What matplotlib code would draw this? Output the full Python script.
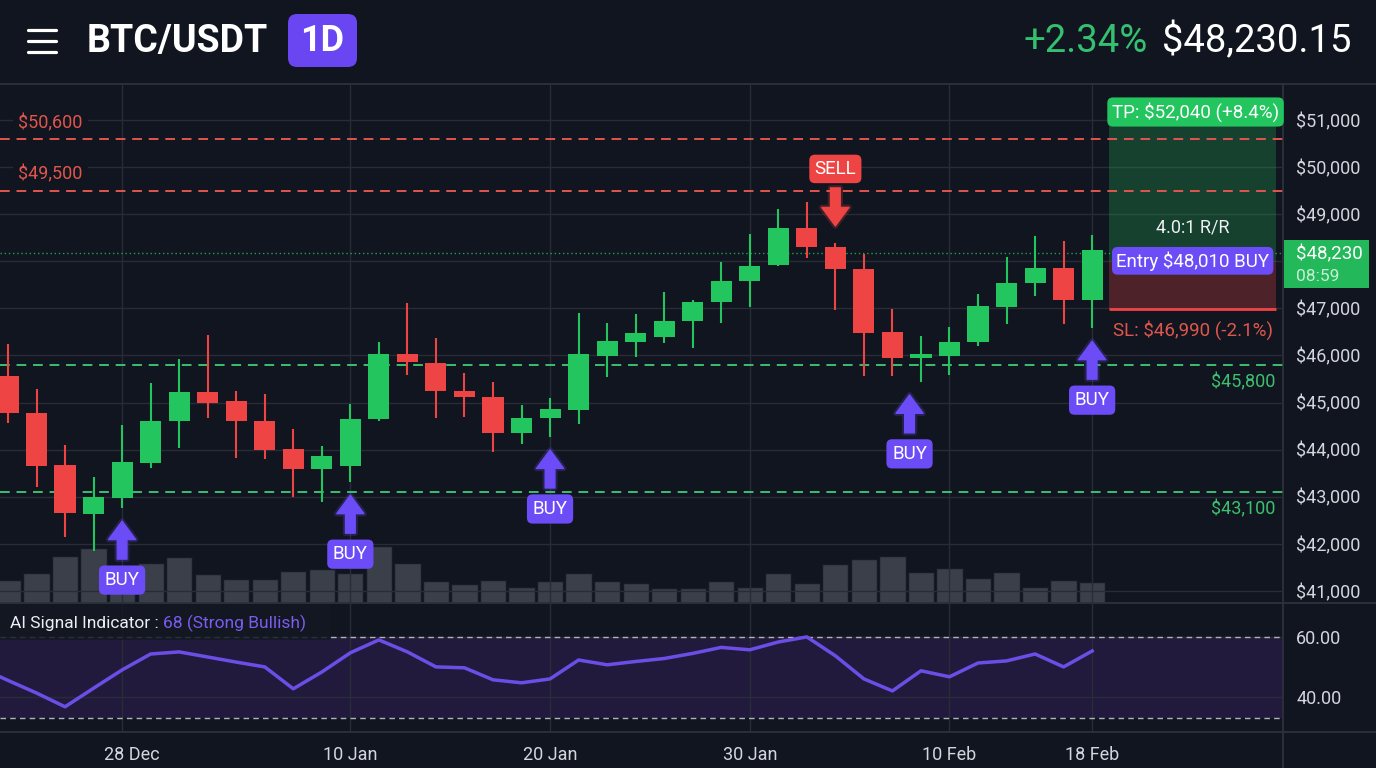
"""BTC/USDT daily candlestick chart with trade zone and AI signal panel."""

import matplotlib.pyplot as plt
import matplotlib.patheffects as pe
import numpy as np
from matplotlib.lines import Line2D
from matplotlib.patches import FancyBboxPatch, Rectangle
from matplotlib.ticker import FuncFormatter
from matplotlib.transforms import (IdentityTransform, ScaledTranslation,
                                   blended_transform_factory)

plt.rcParams["font.family"] = ["Roboto", "DejaVu Sans"]

# ---- values ----
opens = [45560, 44780, 43680, 42640, 42980, 43720, 44610, 45230, 45030, 44610,
         44010, 43590, 43650, 44650, 46030, 45840, 45250, 45120, 44360, 44670,
         44840, 45990, 46290, 46390, 46730, 47140, 47580, 47920, 48710, 48300,
         47840, 46500, 45950, 45990, 46290, 47030, 47540, 47860, 47180]
highs = [46240, 45290, 44100, 43420, 44520, 45420, 45930, 46440, 45250, 45180,
         44440, 44080, 44970, 46290, 47120, 46370, 45630, 45440, 44950, 45100,
         46900, 46690, 46880, 47350, 47180, 47990, 48580, 49110, 49260, 48390,
         48160, 46990, 46410, 46610, 47310, 48090, 48540, 48430, 48560]
lows = [44570, 43210, 42150, 41850, 42760, 43610, 44040, 44670, 43820, 43800,
        43000, 42890, 43310, 44600, 45590, 44670, 44690, 43950, 44120, 44270,
        44550, 45540, 45970, 46270, 46160, 46690, 47030, 47900, 48070, 46970,
        45570, 45570, 45440, 45590, 46200, 46670, 47260, 46670, 46580]
closes = [44780, 43650, 42660, 43000, 43740, 44610, 45230, 44990, 44610, 43990,
          43590, 43870, 44650, 46030, 45860, 45250, 45120, 44360, 44670, 44860,
          46030, 46310, 46480, 46730, 47140, 47580, 47900, 48710, 48300, 47840,
          46480, 45950, 46030, 46290, 47050, 47540, 47860, 47180, 48230]
volumes = [23, 30, 47, 55, 15, 40, 46, 29, 24, 24, 32, 34, 30, 57, 40, 22, 19,
           23, 16, 22, 30, 22, 20, 15, 15, 22, 16, 30, 20, 39, 44, 47, 31, 35,
           25, 31, 16, 23, 21]
signal_values = [45.5, 41.3, 36.7, 42.9, 49.0, 54.3, 55.0, 53.3, 51.6, 50.0,
                 42.7, 48.3, 54.7, 59.0, 55.0, 50.0, 49.7, 45.7, 44.7, 46.0,
                 52.3, 50.7, 51.8, 52.8, 54.5, 56.5, 55.7, 58.3, 60.0, 53.7,
                 46.0, 42.0, 48.7, 46.7, 51.3, 52.0, 54.3, 50.0, 55.3]

date_ticks = [4, 12, 19, 26, 33, 38]
date_labels = ["28 Dec", "10 Jan", "20 Jan", "30 Jan", "10 Feb", "18 Feb"]
price_ticks = list(range(41000, 52000, 1000))

resistance_levels = [50600, 49500]
support_levels = [45800, 43100]
buy_signals = [4, 12, 19, 31.6, 38]
sell_signals = [29]

current_price = 48230
last_price = 48230.15
change_pct = 2.34
entry_price = 48010
stop_loss = 46990
take_profit = 52040
signal_score = 68
signal_band = (33, 60)

# ---- style ----
BG = "#11151f"
GRID = "#272c37"
LINE = "#2c313c"
UP = "#22c55e"
DOWN = "#ef4444"
PURPLE = "#6b4cf6"
TEXT = "#d3d6dc"
W, H = 1376, 768

fig = plt.figure(figsize=(W / 100, H / 100), dpi=100, facecolor=BG)


def fig_rect(left, top, right, bottom):
    return [left / W, 1 - bottom / H, (right - left) / W, (bottom - top) / H]


ax = fig.add_axes(fig_rect(0, 84, 1283, 603))
ind = fig.add_axes(fig_rect(0, 603, 1283, 732), sharex=ax)
vol = ax.twinx()
ax.set_zorder(2)
vol.set_zorder(1)
ax.patch.set_visible(False)
ind.set_facecolor(BG)

ylim = (40745, 51764)
ax.set_xlim(-0.28, 44.69)
ax.set_ylim(*ylim)
ppx = (ylim[1] - ylim[0]) / 519  # price units per pixel


def px(n):
    return n * ppx


for a in (ax, vol, ind):
    for s in a.spines.values():
        s.set_visible(False)

# ---- candles + volume ----
x = np.arange(len(opens))
o, h, l, c = map(np.array, (opens, highs, lows, closes))
colors = np.where(c >= o, UP, DOWN)
ax.vlines(x, l, h, colors=colors, lw=1.5, zorder=3)
ax.bar(x, np.maximum(np.abs(c - o), px(3)), bottom=np.minimum(o, c),
       width=0.74, color=colors, zorder=4)

vol.bar(x, volumes, width=0.92, color="#3a3f4a", edgecolor="#161a22", lw=1)
vol.set_ylim(0, 519)
vol.set_yticks([])


def price_label(v, _):
    # the live price tag covers this level on the scale
    if abs(v - current_price) < 500:
        return ""
    return f"${v:,.0f}"


ax.set_yticks(price_ticks)
ax.yaxis.tick_right()
ax.yaxis.set_major_formatter(FuncFormatter(price_label))
ax.tick_params(axis="y", length=0, pad=9.5, labelsize=13, labelcolor=TEXT)
ax.tick_params(axis="x", length=0, labelbottom=False)
ax.set_axisbelow(True)
ax.grid(True, color=GRID, lw=1)

# ---- levels ----
for lvl in resistance_levels:
    ax.axhline(lvl, color="#e0564d", lw=1.4, ls=(0, (5, 3.5)), zorder=2)
    ax.annotate(f"${lvl:,}", xy=(0, lvl), xycoords=("axes fraction", "data"),
                xytext=(18, 16), textcoords="offset pixels", ha="left",
                va="center", color="#e0564d", fontsize=13,
                bbox=dict(boxstyle="square,pad=0.3", fc=BG, ec="none"))
for lvl in support_levels:
    ax.axhline(lvl, color="#3cc06e", lw=1.4, ls=(0, (5, 3.5)), zorder=2)
    ax.annotate(f"${lvl:,}", xy=(1, lvl), xycoords=("axes fraction", "data"),
                xytext=(-8, -17), textcoords="offset pixels", ha="right",
                va="center", color="#3cc06e", fontsize=13)
ax.axhline(current_price - px(3), color=UP, lw=1, ls=(0, (1, 2)), alpha=0.8,
           zorder=2)

# ---- trade zone ----
zone_left, zone_right = 38.6, 44.45
zone_mid = (zone_left + zone_right) / 2
zone_top = ylim[1] - px(42)
ax.fill_between([zone_left, zone_right], entry_price, zone_top,
                color=UP, alpha=0.25, lw=0, zorder=1)
ax.fill_between([zone_left, zone_right], stop_loss, entry_price,
                color=DOWN, alpha=0.28, lw=0, zorder=1)
ax.hlines(stop_loss, zone_left, zone_right, color=DOWN, lw=2, zorder=3)

tp_pct = (take_profit - entry_price) / entry_price * 100
sl_pct = (stop_loss - entry_price) / entry_price * 100
rr = (take_profit - entry_price) / (entry_price - stop_loss)

ax.text(zone_mid + 0.1, ylim[1] - px(28),
        f"TP: ${take_profit:,} (+{tp_pct:.1f}%)",
        ha="center", va="center", color="white", fontsize=13.5, zorder=6,
        bbox=dict(boxstyle="round,pad=0.25,rounding_size=0.3", fc=UP,
                  ec="none"))
ax.text(zone_mid, entry_price + px(33), f"{rr:.1f}:1 R/R", ha="center",
        va="center", color="#eef0f3", fontsize=13, zorder=6)
ax.text(zone_mid, entry_price, f"Entry ${entry_price:,} BUY", ha="center",
        va="center", color="white", fontsize=13.5, zorder=6,
        bbox=dict(boxstyle="round,pad=0.22,rounding_size=0.3", fc=PURPLE,
                  ec="none"))
ax.text(zone_mid, stop_loss - px(21), f"SL: ${stop_loss:,} ({sl_pct:.1f}%)",
        ha="center", va="center", color="#e0564d", fontsize=13.5, zorder=6)

# current price tag on the price scale
tag_tf = blended_transform_factory(ax.transAxes, ax.transData)
ax.add_patch(Rectangle((1284 / 1283, current_price - px(38)), 85 / 1283,
                       px(48), transform=tag_tf, clip_on=False, fc="#23b85a",
                       ec="none", zorder=7))
ax.text(1296 / 1283, current_price - px(4), f"${current_price:,}",
        transform=tag_tf, ha="left", va="center", color="white",
        fontsize=13.5, zorder=8, clip_on=False)
ax.text(1296 / 1283, current_price - px(26), "08:59", transform=tag_tf,
        ha="left", va="center", color="#c6efd4", fontsize=12.5, zorder=8,
        clip_on=False)

# ---- buy / sell markers ----
arrow_style = "simple,head_length=0.95,head_width=1.4,tail_width=0.5"


def glow(color):
    return [pe.Stroke(linewidth=4, foreground=color, alpha=0.22), pe.Normal()]


for sig in buy_signals:
    low = lows[int(round(sig))]
    ann = ax.annotate("", xy=(sig, low - px(13)), xytext=(sig, low - px(51)),
                      arrowprops=dict(arrowstyle=arrow_style, color=PURPLE,
                                      shrinkA=0, shrinkB=0, mutation_scale=14),
                      zorder=6)
    ann.arrow_patch.set_path_effects(glow(PURPLE))
    ax.text(sig, low - px(72), "BUY", ha="center", va="center",
            color="white", fontsize=13.5, zorder=6,
            bbox=dict(boxstyle="round,pad=0.3,rounding_size=0.3",
                      fc=PURPLE, ec="none"))
for sig in sell_signals:
    high = highs[sig]
    ann = ax.annotate("", xy=(sig, high + px(17)), xytext=(sig, high + px(55)),
                      arrowprops=dict(arrowstyle=arrow_style, color=DOWN,
                                      shrinkA=0, shrinkB=0, mutation_scale=14),
                      zorder=6)
    ann.arrow_patch.set_path_effects(glow(DOWN))
    ax.text(sig, high + px(74), "SELL", ha="center", va="center",
            color="white", fontsize=13.5, zorder=6,
            bbox=dict(boxstyle="round,pad=0.28,rounding_size=0.3",
                      fc=DOWN, ec="none"))

# ---- indicator panel ----
ind.set_ylim(28.3, 71.3)
ind.axhspan(*signal_band, color="#211a3d", lw=0, zorder=0)
for v in signal_band:
    ind.axhline(v, color="#aeb2bc", lw=1, ls=(0, (4, 3)), zorder=2)
ind.plot(np.r_[-0.28, x], np.r_[46.7, signal_values], color="#6c4ee6",
         lw=2.5, zorder=3, solid_joinstyle="round")
ind.set_yticks([40, 60])
ind.yaxis.tick_right()
ind.yaxis.set_major_formatter(FuncFormatter(lambda v, _: f"{v:.2f}"))
ind.tick_params(axis="y", length=0, pad=9.5, labelsize=13, labelcolor=TEXT)
ind.set_xticks(date_ticks)
ind.set_xticklabels(date_labels)
ind.tick_params(axis="x", length=0, pad=10, labelsize=13, labelcolor=TEXT)
first = ind.get_xticklabels()[0]
first.set_transform(first.get_transform()
                    + ScaledTranslation(0.1, 0, fig.dpi_scale_trans))
ind.set_axisbelow(True)
ind.grid(True, color=GRID, lw=1)

ind.add_patch(Rectangle((0, 0.71), 330 / 1283, 0.29, transform=ind.transAxes,
                        fc="#141822", ec="none", alpha=0.85, zorder=4))
label = ind.text(10 / 1283, 0.84, "AI Signal Indicator : ",
                 transform=ind.transAxes, ha="left", va="center",
                 color="#eceef2", fontsize=12.5, zorder=5)
ind.annotate(f"{signal_score} (Strong Bullish)", xy=(1, 0.5),
             xycoords=label, ha="left", va="center", color="#7a5cf0",
             fontsize=12.5, zorder=5)

# ---- frame lines ----
for y0 in (84, 603, 732):
    fig.add_artist(Line2D([0, 1], [1 - y0 / H] * 2, color=LINE, lw=1.3))
fig.add_artist(Line2D([1283 / W] * 2, [0, 1 - 84 / H], color=LINE, lw=1.3))

# ---- header ----
for y0 in (30, 41, 52):
    fig.add_artist(Line2D([28 / W, 56 / W], [1 - y0 / H] * 2, color="white",
                          lw=2.3, solid_capstyle="round"))
fig.text(87 / W, 1 - 41 / H, "BTC/USDT", ha="left", va="center",
         color="white", fontsize=27, fontweight="bold")
fig.add_artist(FancyBboxPatch((288, H - 67), 69, 53,
                              boxstyle="round,pad=0,rounding_size=9",
                              transform=IdentityTransform(), fc="#6a45f2",
                              ec="none"))
fig.text(322.5 / W, 1 - 41 / H, "1D", ha="center", va="center",
         color="white", fontsize=26, fontweight="bold")
fig.text(1352 / W, 1 - 41 / H, f"${last_price:,.2f}", ha="right",
         va="center", color="white", fontsize=27.5)
fig.text(1148 / W, 1 - 41 / H, f"+{change_pct:.2f}%", ha="right",
         va="center", color="#34c070", fontsize=27.5)

fig.savefig("out.png", dpi=100, facecolor=BG)
